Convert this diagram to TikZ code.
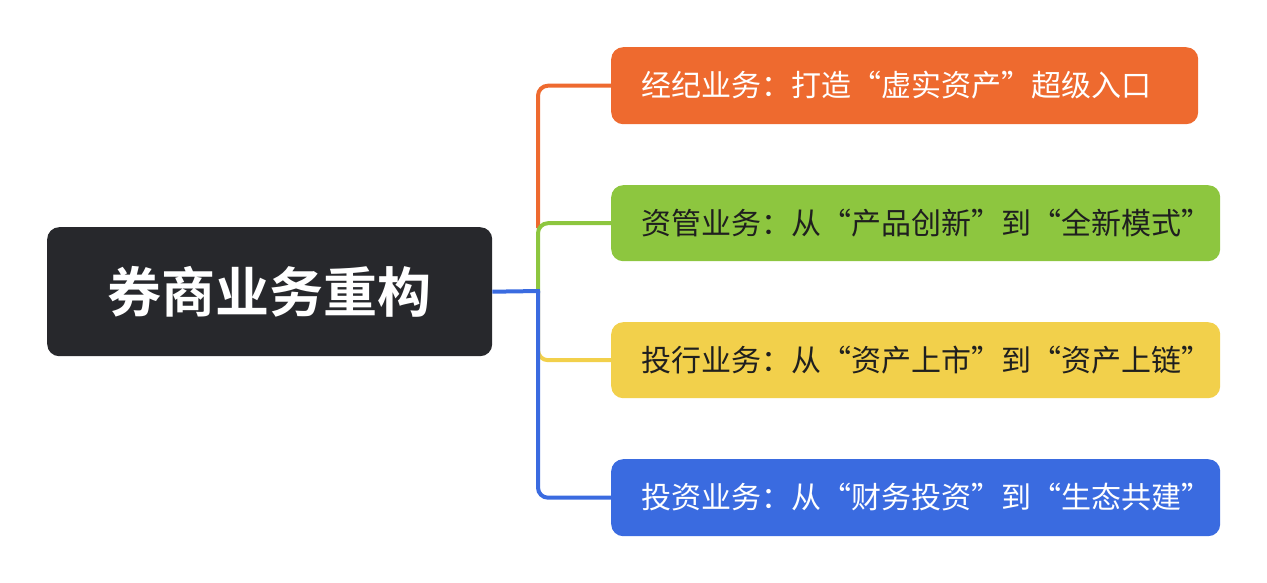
\documentclass[tikz,border=0pt]{standalone}
\usepackage{fontspec}
\newfontfamily\cjk{Noto Sans CJK SC}
\newfontfamily\cjkb{Noto Sans CJK SC Bold}
\definecolor{cor}{HTML}{EE6A2F}
\definecolor{cgr}{HTML}{8DC63F}
\definecolor{cye}{HTML}{F2D04B}
\definecolor{cbl}{HTML}{3A6BE0}
\definecolor{cdk}{HTML}{27282C}
\begin{document}
\begin{tikzpicture}[x=1pt,y=-1pt,
 branch/.style={rounded corners=12pt,inner sep=0pt,anchor=north west},
 btext/.style={font=\cjk\fontsize{30}{32}\selectfont,anchor=west},
 link/.style={line width=4pt,rounded corners=10pt}]
\useasboundingbox (0,0) rectangle (1267,583);
\node[branch,fill=cdk,minimum width=445pt,minimum height=129pt] (c) at (47,227) {};
\node[font=\cjkb\fontsize{54}{58}\selectfont,text=white] (ct) at (c.center) {券商业务重构};
\coordinate (j) at (538,291);
\coordinate (j1) at (538,228);
\node[branch,fill=cor,minimum width=587pt,minimum height=77pt] (b1) at (611,47) {};
\node[branch,fill=cgr,minimum width=609pt,minimum height=76pt] (b2) at (611,185) {};
\node[branch,fill=cye,minimum width=609pt,minimum height=76pt] (b3) at (611,322) {};
\node[branch,fill=cbl,minimum width=609pt,minimum height=77pt] (b4) at (611,459) {};
\node[btext,text=white] (t1) at (638,85.5) {经纪业务：打造“虚实资产”超级入口};
\node[btext,text=black!88] (t2) at (638,223) {资管业务：从“产品创新”到“全新模式”};
\node[btext,text=black!88] (t3) at (638,360) {投行业务：从“资产上市”到“资产上链”};
\node[btext,text=white] (t4) at (638,497.5) {投资业务：从“财务投资”到“生态共建”};
\draw[link,cor] (j1) |- (b1.west);
\draw[link,cgr] (j) |- (b2.west);
\draw[link,cye] (j) |- (b3.west);
\draw[link,cbl] (j) |- (b4.west);
\draw[line width=4pt,cbl] (c.east) -- ([xshift=2pt]j);
\end{tikzpicture}
\end{document}
